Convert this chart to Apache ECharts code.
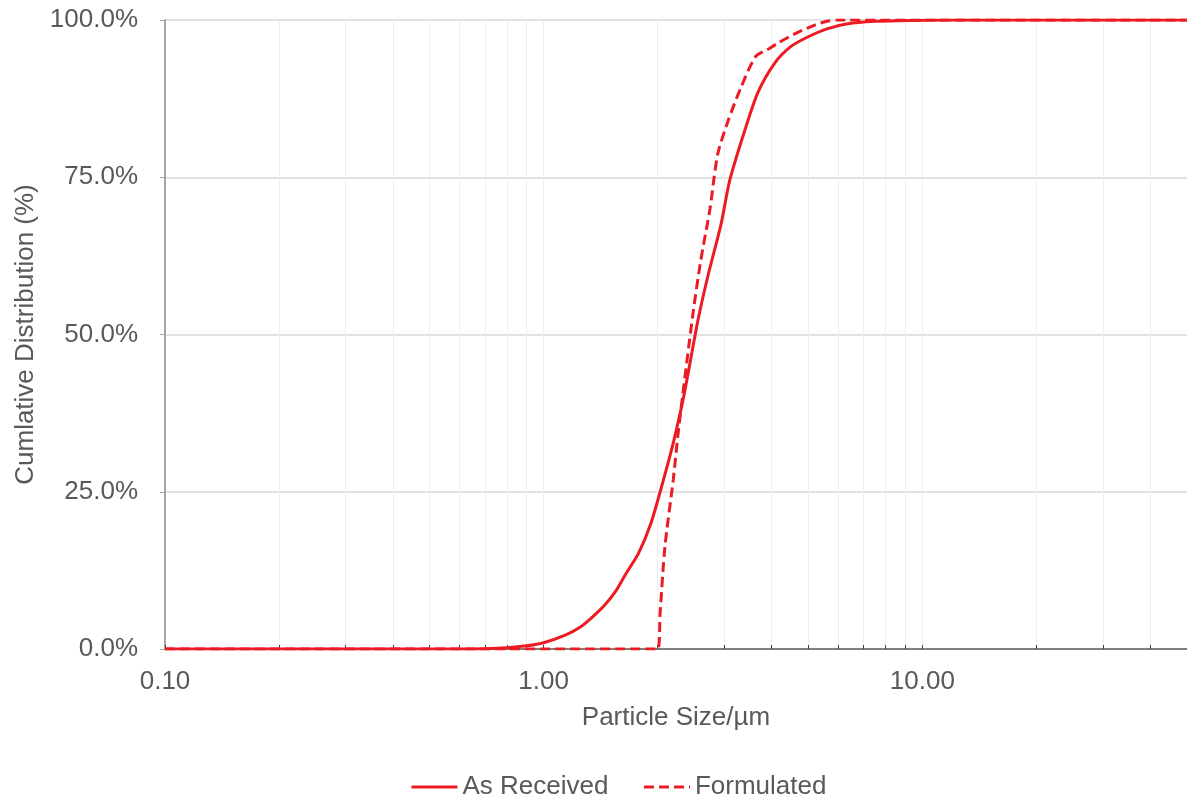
<!DOCTYPE html>
<html>
<head>
<meta charset="utf-8">
<script src="https://cdn.jsdelivr.net/npm/echarts@6/dist/echarts.min.js"></script>
<style>
  html, body { margin: 0; padding: 0; background: #fff; }
  #chart { width: 1187px; height: 797px; }
</style>
</head>
<body>
<div id="chart"></div>
<script>
// particle size (µm) / cumulative %
const asReceivedSize = [0.1, 0.6, 0.7, 0.8, 0.9, 1.0, 1.14, 1.25, 1.34, 1.45, 1.55, 1.65, 1.78, 1.92, 2.07, 2.2, 2.35, 2.56, 2.72, 2.94, 3.1, 3.4, 3.68, 4.08, 4.5, 4.98, 5.6, 6.35, 7.5, 8.6, 12, 50]
const asReceivedCum = [0, 0, 0.05, 0.2, 0.5, 1.0, 2.2, 3.5, 5.0, 7.0, 9.2, 12.0, 15.2, 20.0, 26.8, 32.8, 40.5, 52.5, 59.5, 67.5, 74.5, 82.5, 88.5, 93.2, 95.8, 97.3, 98.6, 99.4, 99.8, 99.9, 100, 100]

const formulatedSize = [0.1, 2.0, 2.03, 2.09, 2.2, 2.27, 2.48, 2.6, 2.75, 2.82, 2.89, 3.07, 3.32, 3.63, 3.9, 4.15, 4.6, 5.2, 5.6, 6.0, 50]
const formulatedCum = [0, 0, 5.7, 16.2, 27, 34.8, 53.4, 61.8, 70, 75, 79, 84, 89.3, 94.2, 95.3, 96.3, 97.8, 99.2, 99.8, 100, 100]

const xLabelTicks = [0.1, 1, 10]
const xMinorTicks = [0.1, 0.2, 0.3, 0.4, 0.5, 0.6, 0.7, 0.8, 0.9, 1, 2, 3, 4, 5, 6, 7, 8, 9, 10, 20, 30, 40, 50]

const textColor = '#595959'
const fontFamily = '"Liberation Sans", Arial, sans-serif'
const red = '#ec1a22'

function pairs(xs, ys) {
  return xs.map((x, i) => [x, ys[i]])
}

const chart = echarts.init(document.getElementById('chart'))
chart.setOption({
  animation: false,
  textStyle: { fontFamily: fontFamily },
  grid: {
    left: 165,
    top: 20,
    right: 0,
    bottom: 148
  },
  legend: {
    left: 405,
    top: 769,
    itemWidth: 46,
    itemHeight: 14,
    itemGap: 34,
    itemStyle: { opacity: 0 },
    lineStyle: { width: 3 },
    textStyle: { color: textColor, fontSize: 26, fontFamily: fontFamily },
    data: ['As Received', 'Formulated']
  },
  xAxis: {
    type: 'log',
    logBase: 10,
    min: 0.1,
    max: 50,
    name: 'Particle Size/µm',
    nameLocation: 'middle',
    nameGap: 56,
    nameTextStyle: { color: textColor, fontSize: 26 },
    axisLine: { lineStyle: { color: '#7f7f7f', width: 2 } },
    axisTick: {
      inside: true,
      length: 4,
      customValues: xMinorTicks,
      lineStyle: { color: '#404040', width: 1 }
    },
    axisLabel: {
      customValues: xLabelTicks,
      color: textColor,
      fontSize: 26,
      margin: 20,
      formatter: v => Number(v).toFixed(2)
    },
    splitLine: { show: true, lineStyle: { color: '#eeeeee', width: 1 } }
  },
  yAxis: {
    type: 'value',
    min: 0,
    max: 100,
    interval: 25,
    name: 'Cumlative Distribution (%)',
    nameLocation: 'middle',
    nameGap: 120,
    nameTextStyle: { color: textColor, fontSize: 26 },
    axisLine: { show: true, lineStyle: { color: '#a6a6a6', width: 2 } },
    axisTick: { show: true, length: 5, lineStyle: { color: '#a6a6a6' } },
    axisLabel: {
      color: textColor,
      fontSize: 26,
      margin: 27,
      formatter: v => v.toFixed(1) + '%'
    },
    splitLine: { lineStyle: { color: '#d9d9d9', width: 1.5 } }
  },
  series: [{
    name: 'As Received',
    type: 'line',
    symbol: 'none',
    smooth: 0.25,
    color: red,
    lineStyle: { color: red, width: 3 },
    data: pairs(asReceivedSize, asReceivedCum),
    z: 3
  }, {
    name: 'Formulated',
    type: 'line',
    symbol: 'none',
    smooth: 0.25,
    color: red,
    lineStyle: { color: red, width: 3, type: [10, 5] },
    data: pairs(formulatedSize, formulatedCum),
    z: 3
  }]
})
</script>
</body>
</html>
